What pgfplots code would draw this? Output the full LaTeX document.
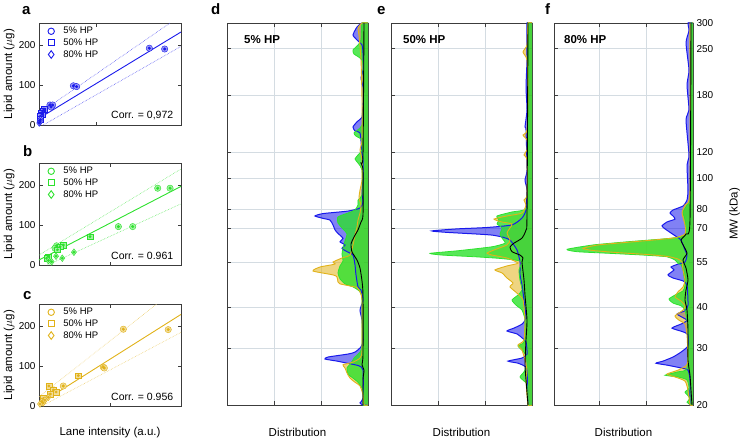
\documentclass[border=0pt]{standalone}
\usepackage{fontspec}
\setmainfont{Liberation Sans}
\usepackage{pgfplots}
\usepackage{pgfplotstable}
\pgfplotsset{compat=1.18}

\definecolor{cblue}{RGB}{25,25,235}
\definecolor{cgreen}{RGB}{45,225,45}
\definecolor{cgold}{RGB}{225,178,25}
\definecolor{gridc}{RGB}{212,220,226}
\definecolor{axc}{RGB}{60,60,60}
\newcommand{\tickfont}{\fontsize{10}{11}\selectfont}
\newcommand{\labfont}{\fontsize{11.5}{13}\selectfont}

% ---------- scatter data (lane intensity, lipid amount) ----------
\pgfplotstableread{
x y
77.7 192
88.5 190
24.2 98
26.5 96
7.7 50
9.6 50
8.5 45
}\aCirc
\pgfplotstableread{
x y
3.5 40
2.5 35
1.5 30
2.2 26
1.0 22
0.8 15
}\aSq
\pgfplotstableread{
x y
0.4 10
0.2 5
1.0 14
0.6 7
}\aDia
\pgfplotstableread{
x y
83.6 192
92.3 192
55.9 96
66.0 96
12.4 48
11.3 42
}\bCirc
\pgfplotstableread{
x y
35.9 71
17.1 50
14.8 46
13.0 38
6.6 21
5.4 17
}\bSq
\pgfplotstableread{
x y
24.6 32
16.4 17
12.0 22
8.9 8
6.6 11
}\bDia
\pgfplotstableread{
x y
59.4 192
91.0 191
45.3 97
46.0 95
17.1 50
10.5 40
}\cCirc
\pgfplotstableread{
x y
27.7 76
7.0 50
10.1 40
12.0 35
8.0 30
3.1 19
}\cSq
\pgfplotstableread{
x y
6.6 22
4.2 15
1.9 11
3.0 8
0.7 5
}\cDia

% ---------- distributions (distribution value, MW in kDa) ----------
\pgfplotstableread{
x y
0 20
5 20
8 20.3
5 21.0
5 25.6
9 26.4
21 26.9
31 27.3
43 27.7
40 28.1
20 28.7
13 29.1
7 30.2
5 31.7
6 36.5
8 39.2
5 42.1
7 45.2
10 46.2
12 50.3
13 54.0
15 57.9
21 59.3
26 60.7
23 62.2
28 63.6
25 65.2
30 67.5
33 69.2
35 71.7
38 74.2
45 75.1
53 76.4
45 77.7
20 79.1
8 80.8
5 84.3
6 89.9
5 98.6
5 113.5
6 119.4
8 137.6
13 139.5
15 143.6
11 148.9
6 154.1
5 170.2
5 190.6
7 203.2
5 215
5 242.5
6 256.7
11 266
15 275.5
11 291.6
6 300
0 300
}\dBlue
\pgfplotstableread{
x y
0 20
5 20
5 22.2
10 23.5
15 24.2
20 24.9
21 26.0
17 26.9
14 27.9
8 29.1
6 30.6
6 42.1
8 44.6
10 45.2
15 46.2
23 47.2
28 48.9
30 51.0
28 53.6
25 55.5
26 58.3
25 60.8
23 64.0
21 67.3
26 70.2
30 72.7
30 75.9
20 78.0
13 79.7
10 82.6
10 85.5
6 88.6
6 105.8
10 111.2
13 114.4
10 117.7
6 121.9
6 130.9
12 134.6
14 137.6
8 142.6
5 150.9
5 222.7
8 234
14 240.8
15 247.8
10 256.7
7 266
6 300
0 300
}\dGreen
\pgfplotstableread{
x y
0 20
4 20
5 21.5
8 22.9
13 23.5
18 24.2
21 25.1
23 26.0
25 26.6
15 27.1
8 27.9
6 29.5
6 42.1
8 44.6
11 46.0
18 46.5
28 47.2
30 47.8
31 49.6
35 50.3
55 51.7
48 53.2
33 54.3
35 55.1
26 56.7
18 57.9
15 62.2
13 66.7
11 70.6
10 74.2
8 78.0
7 82.6
9 86.8
8 91.8
6 98.6
6 113.5
8 121.9
6 130.9
6 173.9
7 230.8
9 275.5
10 289.5
6 300
0 300
}\dGold
\pgfplotstableread{
x y
5 20
5 23.9
4 25.6
6 26.6
5 28.5
5 43.6
6 48.2
8 52.8
11 55.9
16 59.2
17 62.6
14 65.8
10 69.2
7 73.2
5 76.9
5 105.8
7 111.2
5 117.7
4 300
}\dBlack

\pgfplotstableread{
x y
0 20
4 20
5 25.6
8 26.4
14 26.9
24 27.3
10 27.9
5 28.7
6 31.3
10 32.2
15 33.1
25 33.8
18 34.5
10 35.5
6 37.1
8 42.1
10 46.8
12 50.3
12 55.1
15 60.0
22 64.4
30 65.8
40 66.7
55 67.2
85 68.0
100 68.7
75 69.7
45 70.4
20 71.7
10 75.3
6 79.7
5 91.8
7 98.6
5 105.8
6 140.5
7 143.6
5 161.9
6 190.6
5 230.8
5 300
0 300
}\eBlue
\pgfplotstableread{
x y
0 20
4 20
5 23.1
8 23.7
12 24.4
8 25.3
5 26.6
6 28.5
10 29.5
14 30.4
8 31.3
7 36.5
10 39.2
16 40.6
20 42.1
14 43.6
10 45.2
12 48.5
13 52.1
10 55.1
17 55.9
34 56.6
57 57.2
90 57.9
102 58.6
74 59.7
40 61.4
27 63.0
30 65.3
32 67.2
30 70.2
35 72.2
33 74.2
35 76.4
20 78.6
5 80.8
4 98.6
4 300
0 300
}\eGreen
\pgfplotstableread{
x y
0 20
4 20
6 23.9
5 25.6
7 27.5
10 29.5
14 30.6
8 31.7
7 36.5
9 42.1
15 44.2
22 46.2
19 47.5
25 49.2
30 51.0
37 52.1
25 53.6
14 54.7
25 56.7
40 57.9
45 58.7
38 60.0
25 62.2
22 64.4
25 67.7
22 70.2
20 72.2
30 73.2
38 74.7
25 76.4
10 78.0
6 82.6
8 85.5
5 88.6
5 113.5
8 117.7
5 121.9
5 130.9
9 135.6
5 140.5
4 186.7
5 230.8
9 244.3
5 256.7
4 300
0 300
}\eGold
\pgfplotstableread{
x y
4 20
6 23.9
7 26.6
6 31.7
5 36.5
7 43.6
8 48.5
10 55.1
9 56.7
12 57.9
20 59.3
22 61.3
18 63.0
10 65.3
6 69.2
5 76.9
4 300
}\eBlack

\pgfplotstableread{
x y
0 20
3 20
3 23.9
5 25.6
12 26.0
25 26.5
37 26.9
30 27.3
20 28.1
12 29.1
5 30.4
5 32.9
10 33.6
21 34.5
12 35.5
6 36.5
16 38.1
8 39.0
5 40.6
6 46.8
10 48.2
20 49.2
25 50.3
19 52.1
22 53.2
15 54.3
8 55.1
6 57.9
8 60.0
12 64.4
16 65.8
22 67.7
28 69.7
31 71.2
26 73.2
18 74.7
20 76.4
23 78.0
20 79.7
10 82.0
6 85.5
5 91.8
6 109.6
4 117.7
7 150.9
4 161.9
6 193.3
4 215
7 260.5
4 284
5 300
0 300
}\fBlue
\pgfplotstableread{
x y
0 20
2 20
6 20.4
3 21.0
8 21.9
4 22.5
6 23.9
15 24.4
28 24.7
15 25.3
6 26.0
5 34.0
8 39.2
12 40.4
20 41.2
24 42.4
18 43.6
10 44.9
8 46.8
10 52.1
12 54.0
15 54.6
18 55.9
26 57.2
50 57.9
83 58.6
116 59.3
126 60.3
100 62.2
66 63.6
23 65.2
8 66.7
8 74.2
10 78.6
6 82.6
2 91.8
2 300
0 300
}\fGreen
\pgfplotstableread{
x y
0 20
3 20
5 22.2
8 23.7
18 24.4
26 24.9
15 25.6
7 26.4
5 27.5
6 32.9
8 35.5
14 36.5
18 37.6
10 39.2
8 40.4
12 41.8
18 43.0
15 44.6
10 46.2
8 48.5
10 52.1
11 55.1
15 56.3
25 57.3
45 58.1
75 58.9
100 59.8
110 60.7
95 62.2
60 63.6
20 65.3
8 67.2
8 71.7
11 78.0
8 82.6
3 91.8
3 300
0 300
}\fGold
\pgfplotstableread{
x y
1 20
2 22.2
3 24.7
5 27.5
5 34.0
6 39.2
8 42.1
7 45.2
5 48.5
7 52.8
10 55.9
6 58.6
9 61.5
12 64.4
7 67.2
3 74.2
2 300
}\fBlack

\pgfplotsset{
  every tick label/.append style={font=\tickfont},
  /pgf/number format/assume math mode=true,
  scat/.style={
    scale only axis, width=142pt, height=102pt, anchor=north west,
    xmin=0, xmax=100, ymin=0, ymax=255,
    ytick={0,100,200}, xticklabels={},
    clip=false, major tick length=3.5pt,
    tick style={axc, line width=0.5pt}, axis line style={axc, line width=0.5pt},
    ylabel={Lipid amount ($\mu$g)},
    ylabel style={at={(rel axis cs:-0.21,0.5)}, anchor=center, font=\labfont},
    legend cell align=left,
    legend style={draw=none, fill=none, at={(0.055,0.99)}, anchor=north west,
      font=\fontsize{9.5}{10}\selectfont, row sep=-0.5pt, inner sep=1pt,
      /tikz/every odd column/.append style={column sep=7pt}},
  },
  distax/.style={
    scale only axis, width=141pt, height=382pt, anchor=north west,
    x dir=reverse, xmin=0, xmax=141, ymin=20, ymax=300,
    xtick={47,94}, xticklabels={},
    ytick={20,30,40,55,70,80,100,120,180,250,300}, yticklabels={},
    grid=major, grid style={gridc, line width=0.5pt},
    major tick length=4pt, tick style={axc, line width=0.5pt},
    axis line style={axc, line width=0.5pt},
    xlabel={Distribution},
    xlabel style={at={(rel axis cs:0.5,0)}, anchor=center, yshift=-27pt, font=\labfont},
  },
}

\newcommand{\distplots}[4]{%
  \addplot[draw=none, fill=cblue, fill opacity=0.55, smooth, tension=0.35] table {#1};
  \addplot[draw=none, fill=cgold, fill opacity=0.55, smooth, tension=0.35] table {#3};
  \addplot[draw=none, fill=cgreen, fill opacity=0.8, smooth, tension=0.35] table {#2};
  \addplot[cblue, line width=1pt, smooth, tension=0.35] table {#1};
  \addplot[cgreen, line width=0.8pt, smooth, tension=0.35] table {#2};
  \addplot[cgold, line width=0.9pt, smooth, tension=0.35] table {#3};
  \addplot[black, line width=0.9pt, smooth, tension=0.35] table {#4};
}

\newcommand{\scatplots}[4]{%
  \addlegendimage{only marks, color=#1, mark=o, mark size=3.2pt, mark options={draw=#1, line width=0.9pt}}
  \addlegendimage{only marks, color=#1, mark=square, mark size=3pt, mark options={draw=#1, line width=0.9pt}}
  \addlegendimage{only marks, color=#1, mark=diamond, mark size=3.8pt, mark options={draw=#1, line width=0.9pt}}
  \addplot[only marks, mark=*, mark size=3.2pt, mark options={draw=#1, fill=#1!45}, forget plot] table {#2};
  \addplot[only marks, mark=*, mark size=1.3pt, #1, forget plot] table {#2};
  \addplot[only marks, mark=square*, mark size=2.8pt, mark options={draw=#1, fill=#1!45}, forget plot] table {#3};
  \addplot[only marks, mark=*, mark size=1.2pt, #1, forget plot] table {#3};
  \addplot[only marks, mark=diamond*, mark size=3.4pt, mark options={draw=#1, fill=#1!45}, forget plot] table {#4};
  \addplot[only marks, mark=*, mark size=1.2pt, #1, forget plot] table {#4};
  \legend{5\% HP, 50\% HP, 80\% HP}
}

\begin{document}
\begin{tikzpicture}
\useasboundingbox (0,0) rectangle (742pt,-440pt);

% ---- a ----
\begin{axis}[scat, at={(39pt,-23pt)}, xtick={40}]
  \addplot[cblue, line width=0.9pt, forget plot] coordinates {(0,16.7) (100,232.5)};
  \addplot[cblue!70, densely dotted, line width=0.6pt, forget plot] coordinates {(0,29) (92.3,255)};
  \addplot[cblue!70, densely dotted, line width=0.6pt, forget plot] coordinates {(3,0) (100,196.6)};
  \scatplots{cblue}{\aCirc}{\aSq}{\aDia}
  \node[anchor=south east, font=\fontsize{10.5}{11}\selectfont] at (rel axis cs:0.97,0.02) {Corr. = 0,972};
\end{axis}

% ---- b ----
\begin{axis}[scat, at={(39pt,-163pt)}, xtick={50}]
  \addplot[cgreen, line width=0.9pt, forget plot] coordinates {(0,12.5) (100,196.6)};
  \addplot[cgreen!70, densely dotted, line width=0.6pt, forget plot] coordinates {(0,25) (100,240)};
  \addplot[cgreen!70, densely dotted, line width=0.6pt, forget plot] coordinates {(6,0) (100,153)};
  \scatplots{cgreen}{\bCirc}{\bSq}{\bDia}
  \node[anchor=south east, font=\fontsize{10.5}{11}\selectfont] at (rel axis cs:0.97,0.02) {Corr. = 0.961};
\end{axis}

% ---- c ----
\begin{axis}[scat, at={(39pt,-304pt)}, xtick={50},
    xlabel={Lane intensity (a.u.)},
    xlabel style={at={(rel axis cs:0.5,0)}, anchor=center, yshift=-27pt, font=\labfont}]
  \addplot[cgold, line width=0.9pt, forget plot] coordinates {(0,5) (100,229)};
  \addplot[cgold!60, densely dotted, line width=0.6pt, forget plot] coordinates {(0,23) (82.9,255)};
  \addplot[cgold!60, densely dotted, line width=0.6pt, forget plot] coordinates {(2,0) (100,184)};
  \scatplots{cgold}{\cCirc}{\cSq}{\cDia}
  \node[anchor=south east, font=\fontsize{10.5}{11}\selectfont] at (rel axis cs:0.97,0.02) {Corr. = 0.956};
\end{axis}

% ---- d ----
\begin{axis}[distax, ymode=log, at={(227pt,-23pt)}]
  \distplots{\dBlue}{\dGreen}{\dGold}{\dBlack}
\end{axis}
% ---- e ----
\begin{axis}[distax, ymode=log, at={(391pt,-23pt)}]
  \distplots{\eBlue}{\eGreen}{\eGold}{\eBlack}
\end{axis}
% ---- f ----
\begin{axis}[distax, ymode=log, at={(554pt,-23pt)}, width=139pt, xmax=139,
    yticklabel pos=right,
    yticklabels={20,30,40,55,70,80,100,120,180,250,300},
    ylabel={MW (kDa)},
    ylabel style={at={(rel axis cs:1.30,0.5)}, anchor=center, font=\labfont}]
  \distplots{\fBlue}{\fGreen}{\fGold}{\fBlack}
\end{axis}

% panel letters and titles
\foreach \px/\py/\t in {22/14/a, 23/156/b, 23/299/c, 211/14/d, 377/14/e, 545/14/f}
  \node[anchor=base west, inner sep=0pt, font=\bfseries\fontsize{15}{15}\selectfont] at (\px pt,-\py pt) {\t};
\node[anchor=base west, inner sep=0pt, font=\bfseries\fontsize{11.5}{12}\selectfont] at (244pt,-43pt) {5\% HP};
\node[anchor=base west, inner sep=0pt, font=\bfseries\fontsize{11.5}{12}\selectfont] at (403pt,-43pt) {50\% HP};
\node[anchor=base west, inner sep=0pt, font=\bfseries\fontsize{11.5}{12}\selectfont] at (564pt,-43pt) {80\% HP};
\end{tikzpicture}
\end{document}
